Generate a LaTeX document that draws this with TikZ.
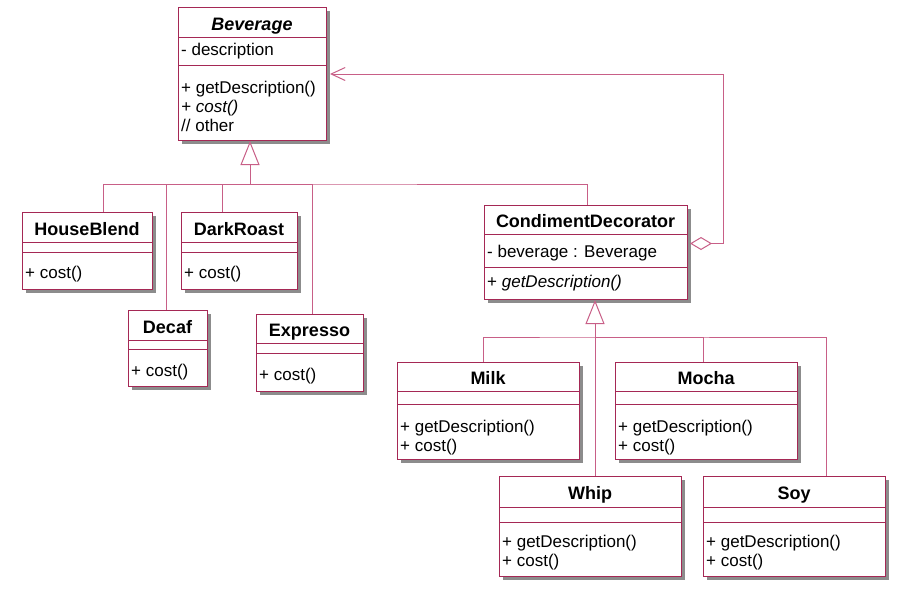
\documentclass[tikz,border=0pt]{standalone}
\usepackage{fontspec}
\setmainfont{Liberation Sans}
\usetikzlibrary{arrows.meta,shadows}
\definecolor{umlborder}{RGB}{165,40,85}
\definecolor{umlline}{RGB}{200,95,135}
\newcommand\umlbox[7]{%
  \node[cls, anchor=north west, minimum width={(#4-#2)*1pt}, minimum height={(#7-#3)*1pt}] (#1) at (#2,#3) {};
  \draw[divline] (#2,#5) -- (#4,#5);
  \draw[divline] (#2,#6) -- (#4,#6);
}
\begin{document}
\begin{tikzpicture}[x=1pt,y=-1pt,
  cls/.style={draw=umlborder, line width=1pt, fill=white, inner sep=0pt,
    drop shadow={shadow xshift=3pt, shadow yshift=-3pt, fill=black!45, opacity=1}},
  divline/.style={draw=umlborder, line width=1pt},
  ttl/.style={inner sep=0pt, font=\fontsize{18}{20}\selectfont\bfseries, text height=13pt, text depth=0pt},
  txt/.style={inner sep=0pt, anchor=base west, font=\fontsize{17}{19}\selectfont},
  conn/.style={draw=umlline, line width=1pt},
  gen/.style={-{Triangle[open, fill=white, length=24pt, width=19pt]}},
  agg/.style={{Diamond[open, fill=white, length=22pt, width=13pt]}-{Straight Barb[length=14pt, width=13pt]}}
]
\useasboundingbox (0,0) rectangle (901,590);

% ---- boxes
\umlbox{bev}{178}{7}{326}{37}{65}{140}
\umlbox{hb}{22}{212}{152}{242}{252}{289}
\umlbox{dr}{181}{212}{297}{242}{252}{289}
\umlbox{decaf}{128}{310}{207}{340}{349}{386}
\umlbox{exp}{256}{314}{363}{343}{353}{391}
\umlbox{cd}{484}{205}{687}{234}{267}{299}
\umlbox{milk}{397}{362}{579}{391}{404}{459}
\umlbox{mocha}{615}{362}{797}{391}{404}{459}
\umlbox{whip}{499}{476}{681}{507}{522}{576}
\umlbox{soy}{703}{476}{885}{507}{522}{576}

% ---- titles
\node[ttl] (bev-t) at (252,23.5) {\itshape Beverage};
\node[ttl] (hb-t) at (87,228.5) {HouseBlend};
\node[ttl] (dr-t) at (239,228.5) {DarkRoast};
\node[ttl] (decaf-t) at (167.5,326.5) {Decaf};
\node[ttl] (exp-t) at (309.5,330) {Expresso};
\node[ttl] (cd-t) at (585.5,221) {CondimentDecorator};
\node[ttl] (milk-t) at (488,378) {Milk};
\node[ttl] (mocha-t) at (706,378) {Mocha};
\node[ttl] (whip-t) at (590,493) {Whip};
\node[ttl] (soy-t) at (794,493) {Soy};

% ---- members
\node[txt] (bev-a) at (181,55) {- description};
\node[txt] (bev-m1) at (181,93) {+ getDescription()};
\node[txt] (bev-m2) at (181,112) {\itshape + cost()};
\node[txt] (bev-m3) at (181,131) {// other};
\node[txt] (hb-m) at (25,278) {+ cost()};
\node[txt] (dr-m) at (184,278) {+ cost()};
\node[txt] (decaf-m) at (131,376) {+ cost()};
\node[txt] (exp-m) at (259,380) {+ cost()};
\node[txt] (cd-a) at (487,257) {- beverage : Beverage};
\node[txt] (cd-m) at (487,287) {+ \itshape getDescription()};
\node[txt] (milk-m1) at (400,432) {+ getDescription()};
\node[txt] (milk-m2) at (400,451) {+ cost()};
\node[txt] (mocha-m1) at (618,432) {+ getDescription()};
\node[txt] (mocha-m2) at (618,451) {+ cost()};
\node[txt] (whip-m1) at (502,547) {+ getDescription()};
\node[txt] (whip-m2) at (502,566) {+ cost()};
\node[txt] (soy-m1) at (706,547) {+ getDescription()};
\node[txt] (soy-m2) at (706,566) {+ cost()};

% ---- generalization to Beverage
\coordinate (bus1) at (250,184);
\draw[conn] ([xshift=16pt]hb.north) |- (bus1) -| ([xshift=1.5pt]cd.north);
\draw[conn] ([xshift=-1.5pt]decaf.north) |- (bus1);
\draw[conn] ([xshift=-17pt]dr.north) |- (bus1);
\draw[conn] ([xshift=2.5pt]exp.north) |- (bus1);
\draw[conn, gen] (bus1) -- (bus1 |- bev.south);

% ---- generalization to CondimentDecorator
\coordinate (bus2) at (594.5,337);
\draw[conn] ([xshift=-5pt]milk.north) |- (bus2) -| ([xshift=32pt]soy.north);
\draw[conn] ([xshift=-3pt]mocha.north) |- (bus2);
\draw[conn, gen] ([xshift=4.5pt]whip.north) -- ([xshift=9pt]cd.south);

% ---- aggregation
\draw[conn, agg, shorten <=2pt, shorten >=3pt] ([yshift=9pt]cd.east) -- ++(35,0) |- (bev.east);
\end{tikzpicture}
\end{document}
